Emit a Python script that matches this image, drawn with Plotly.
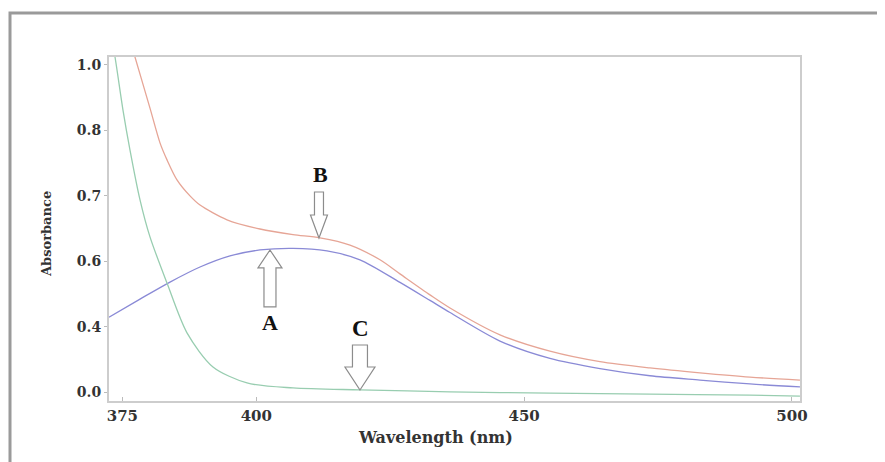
import plotly.graph_objects as go

# ---- data ----
wl_A = [372.50, 378.29, 383.89, 389.49, 395.09, 400.69, 406.85, 413.19, 419.35, 426.82,
        432.42, 436.16, 445.49, 454.82, 464.16, 473.49, 482.82, 492.16, 501.49]
abs_A = [0.230, 0.285, 0.337, 0.383, 0.417, 0.435, 0.440, 0.432, 0.405, 0.336,
         0.281, 0.244, 0.157, 0.104, 0.073, 0.051, 0.038, 0.026, 0.017]

wl_B = [376.05, 377.35, 380.15, 382.02, 383.33, 385.19, 387.62, 389.49, 394.53, 400.69,
        406.85, 411.89, 417.49, 423.09, 426.82, 432.42, 436.16, 445.49, 454.82, 464.16,
        473.49, 482.82, 492.16, 501.49]
abs_B = [1.100, 1.024, 0.868, 0.762, 0.710, 0.649, 0.600, 0.572, 0.527, 0.499,
         0.482, 0.472, 0.450, 0.405, 0.362, 0.298, 0.258, 0.176, 0.126, 0.094,
         0.075, 0.060, 0.047, 0.038]

wl_C = [372.69, 373.62, 375.11, 376.42, 378.29, 380.15, 383.33, 387.06, 391.91, 398.26,
        406.85, 419.35, 436.16, 454.82, 473.49, 492.16, 501.49]
abs_C = [1.107, 1.024, 0.862, 0.740, 0.588, 0.475, 0.334, 0.182, 0.078, 0.029,
         0.014, 0.008, 0.002, -0.002, -0.005, -0.008, -0.011]

x_tickvals = [375, 400, 450, 500]
x_ticktext = ["375", "400", "450", "500"]
y_tickvals = [0.0, 0.2, 0.4, 0.6, 0.8, 1.0]
y_ticktext = ["0.0", "0.4", "0.6", "0.7", "0.8", "1.0"]

# ---- layout geometry (page body has an 8px margin) ----
W, H = 877, 454
ML, MR, MT, MB = 101, 85, 49, 61
XR = [372.5, 501.5]
YR = [-0.026, 1.024]
pw, ph = W - ML - MR, H - MT - MB
sx = pw / (XR[1] - XR[0])
sy = ph / (YR[1] - YR[0])

# screen-pixel helpers relative to the plot area (screen = figure + 8)
PL, PB = ML + 8, H - MB + 8


def px_x(sxp):
    return (sxp - PL) / pw


def px_y(syp):
    return (PB - syp) / ph


FONT = "DejaVu Serif, Liberation Serif, serif"
LFONT = "Liberation Serif, Times New Roman, serif"

fig = go.Figure()
fig.add_trace(go.Scatter(x=wl_B, y=abs_B, mode="lines",
                         line=dict(color="#e6a596", width=1.3, shape="spline", smoothing=0.8), name="B"))
fig.add_trace(go.Scatter(x=wl_A, y=abs_A, mode="lines",
                         line=dict(color="#8a8ad6", width=1.3, shape="spline", smoothing=0.8), name="A"))
fig.add_trace(go.Scatter(x=wl_C, y=abs_C, mode="lines",
                         line=dict(color="#98cdb0", width=1.3, shape="spline", smoothing=0.8), name="C"))


def block_arrow(xt, yt, length, shaft_hw, head_hw, head_len, down=True):
    s = 1 if down else -1
    pts = [(0, 0), (-head_hw, head_len), (-shaft_hw, head_len), (-shaft_hw, length),
           (shaft_hw, length), (shaft_hw, head_len), (head_hw, head_len)]
    coords = [(xt + dx / sx, yt + s * dy / sy) for dx, dy in pts]
    path = "M " + " L ".join(f"{x:.4f},{y:.5f}" for x, y in coords) + " Z"
    return dict(type="path", xref="x", yref="y", path=path,
                line=dict(color="#8c8c8c", width=1.2), fillcolor="rgba(255,255,255,1)", layer="above")


shapes = [
    block_arrow(411.7, 0.4716, 46, 4.5, 8.5, 23, down=True),    # B
    block_arrow(402.55, 0.435, 57, 6, 12, 18, down=False),     # A
    block_arrow(419.35, 0.0076, 45, 7.5, 15, 23, down=True),   # C
    # outer frame of the figure image
    dict(type="rect", xref="paper", yref="paper",
         x0=px_x(10), x1=px_x(900), y0=px_y(480), y1=px_y(13),
         line=dict(color="#9a9a9a", width=3), layer="below"),
]

annotations = [
    dict(x=411.9, y=0.664, xref="x", yref="y", text="B", showarrow=False,
         xanchor="center", yanchor="middle",
         font=dict(family=LFONT, size=22, color="#111", weight="bold")),
    dict(x=402.55, y=0.215, xref="x", yref="y", text="A", showarrow=False,
         xanchor="center", yanchor="middle",
         font=dict(family=LFONT, size=22, color="#111", weight="bold")),
    dict(x=419.5, y=0.194, xref="x", yref="y", text="C", showarrow=False,
         xanchor="center", yanchor="middle",
         font=dict(family=LFONT, size=23, color="#111", weight="bold")),
    dict(x=px_x(435), y=px_y(437), xref="paper", yref="paper",
         text="Wavelength (nm)", showarrow=False,
         xanchor="center", yanchor="middle",
         font=dict(family=FONT, size=16, color="#333", weight="bold")),
    dict(x=px_x(46), y=px_y(234), xref="paper", yref="paper",
         text="Absorbance", showarrow=False, textangle=-90,
         xanchor="center", yanchor="middle",
         font=dict(family=FONT, size=13, color="#333", weight="bold")),
]

fig.update_layout(
    width=W, height=H,
    margin=dict(l=ML, r=MR, t=MT, b=MB),
    paper_bgcolor="white", plot_bgcolor="white",
    showlegend=False,
    shapes=shapes, annotations=annotations,
    xaxis=dict(range=XR, tickvals=x_tickvals, ticktext=x_ticktext,
               showgrid=False, zeroline=False, showline=True, mirror=True,
               linecolor="#cdcdcd", linewidth=2, ticks="inside", ticklen=4,
               tickcolor="#bbbbbb",
               tickfont=dict(family=FONT, size=15, color="#333", weight="bold")),
    yaxis=dict(range=YR, tickvals=y_tickvals, ticktext=y_ticktext,
               showgrid=False, zeroline=False, showline=True, mirror=True,
               linecolor="#cdcdcd", linewidth=2, ticks="outside", ticklen=3,
               tickcolor="#bbbbbb",
               tickfont=dict(family=FONT, size=14, color="#333", weight="bold")),
)

fig.write_html("out.html")
